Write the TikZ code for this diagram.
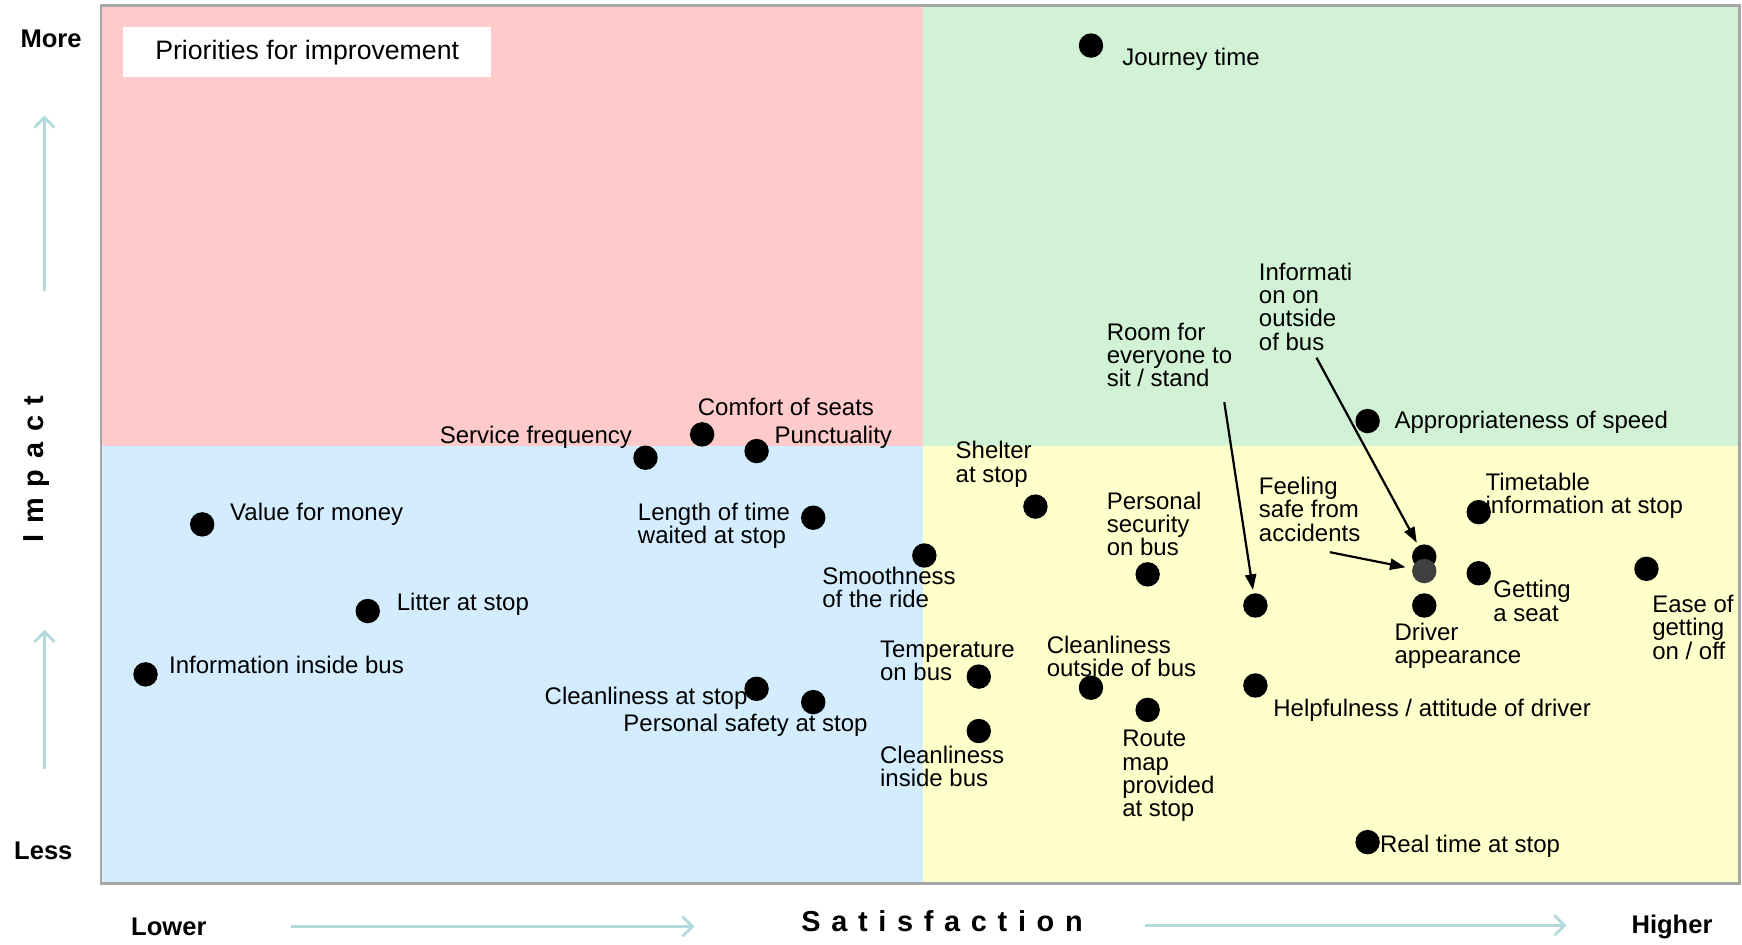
\documentclass[tikz,border=0pt]{standalone}
\usepackage{fontspec}
\setmainfont{Liberation Sans}
\usetikzlibrary{arrows.meta,positioning}

\definecolor{pinkq}{HTML}{FFCACA}
\definecolor{greenq}{HTML}{D2F2D6}
\definecolor{blueq}{HTML}{D3EDFF}
\definecolor{yellowq}{HTML}{FFFFCC}
\definecolor{hintteal}{HTML}{B2DADC}

\begin{document}
\begin{tikzpicture}[x=1pt,y=-1pt,
   dot/.style={circle,fill=black,minimum size=22pt,inner sep=0pt},
   lbl/.style={anchor=west,align=left,inner sep=0pt,yshift=-1.5pt,font=\fontsize{21.6}{21}\selectfont},
   axisword/.style={inner sep=0pt,font=\fontsize{23}{24}\selectfont\bfseries},
   spaced/.style={inner sep=0pt,font=\fontsize{26}{28}\selectfont\bfseries\addfontfeature{LetterSpace=37}},
   hint/.style={draw=hintteal,line width=2.5pt,-{Straight Barb[length=9pt,width=18pt]}},
   pointer/.style={line width=2pt,shorten >=3pt,-{Triangle[length=14pt,width=10pt]}}]
   \useasboundingbox (0,0) rectangle (1568,850);
   \fill[white] (0,0) rectangle (1568,850);
   % quadrants
   \fill[pinkq] (91,5) rectangle (831,401);
   \fill[greenq] (831,5) rectangle (1566,401);
   \fill[blueq] (91,401) rectangle (831,795);
   \fill[yellowq] (831,401) rectangle (1566,795);
   \draw[black!35,line width=2.5pt] (91,5) rectangle (1566,795);
   \node[fill=white,minimum width=331pt,minimum height=45pt,inner sep=0pt,
         font=\fontsize{24}{24}\selectfont] (prio) at (276.5,47) {Priorities for improvement};
   % axes
   \node[axisword] (more) at (46,35) {More};
   \node[axisword] (less) at (39,766) {Less};
   \node[axisword] (lower) at (152,834) {Lower};
   \node[axisword] (higher) at (1505,834) {Higher};
   \node[spaced] (satis) at (848,829) {Satisfaction};
   \node[spaced,rotate=90] (impact) at (33,422) {Impact};
   \draw[hint] (40,262) -- (40,104);
   \draw[hint] (40,692) -- (40,567);
   \draw[hint] (262,834) -- (625,834);
   \draw[hint] (1031,833) -- (1410,833);
   % labels
   \node[lbl] (journeyl) at (1010,52) {Journey time};
   \node[lbl] (speedl) at (1255,379) {Appropriateness of speed};
   \node[lbl] (comfortl) at (628,365) {Comfort of seats};
   \node[lbl,anchor=east] (freql) at (569,392) {Service frequency};
   \node[lbl] (punctl) at (697,392) {Punctuality};
   \node[lbl] (waitl) at (574,471.5) {Length of time\\waited at stop};
   \node[lbl] (smoothl) at (740,527.5) {Smoothness\\of the ride};
   \node[lbl] (valuel) at (207,461) {Value for money};
   \node[lbl] (litterl) at (357,542) {Litter at stop};
   \node[lbl] (infoinl) at (152,597) {Information inside bus};
   \node[lbl,anchor=east] (cleanstopl) at (673,627) {Cleanliness at stop};
   \node[lbl] (safetyl) at (561,651) {Personal safety at stop};
   \node[lbl] (templ) at (792,593.5) {Temperature\\on bus};
   \node[lbl] (cleaninl) at (792,688.5) {Cleanliness\\inside bus};
   \node[lbl] (shelterl) at (860,416.5) {Shelter\\at stop};
   \node[lbl] (securityl) at (996,470) {Personal\\security\\on bus};
   \node[lbl] (cleanoutl) at (942,589.5) {Cleanliness\\outside of bus};
   \node[lbl] (routel) at (1010,697) {Route\\map\\provided\\at stop};
   \node[lbl] (rooml) at (996,318) {Room for\\everyone to\\sit / stand};
   \node[lbl] (infooutl) at (1133,274.5) {Informati\\on on\\outside\\of bus};
   \node[lbl] (feelingl) at (1133,457) {Feeling\\safe from\\accidents};
   \node[lbl] (helpl) at (1146,638) {Helpfulness / attitude of driver};
   \node[lbl] (driverl) at (1255,579.5) {Driver\\appearance};
   \node[lbl] (timetablel) at (1337,444.5) {Timetable\\information at stop};
   \node[lbl] (seatl) at (1344,539.5) {Getting\\a seat};
   \node[lbl] (easel) at (1487,563) {Ease of\\getting\\on / off};
   \node[lbl] (reall) at (1242,760) {Real time at stop};
   % dots
   \node[dot] (journey) at (982,41) {};
   \node[dot] (speed) at (1231,379) {};
   \node[dot] (comfort) at (632,391) {};
   \node[dot] (freq) at (581,412) {};
   \node[dot] (punct) at (681,406) {};
   \node[dot] (wait) at (732,466) {};
   \node[dot] (smooth) at (832,500) {};
   \node[dot] (value) at (182,472) {};
   \node[dot] (litter) at (331,550) {};
   \node[dot] (infoin) at (131,607) {};
   \node[dot] (cleanstop) at (681,620) {};
   \node[dot] (safety) at (732,632) {};
   \node[dot] (temp) at (881,609) {};
   \node[dot] (cleanin) at (881,658) {};
   \node[dot] (shelter) at (932,456) {};
   \node[dot] (security) at (1033,517) {};
   \node[dot] (cleanout) at (982,619) {};
   \node[dot] (route) at (1033,639) {};
   \node[dot] (room) at (1130,545) {};
   \node[dot] (help) at (1130,617) {};
   \node[dot] (infoout) at (1282,501) {};
   \node[dot,fill=black!75] (feeling) at (1282,514) {};
   \node[dot] (driver) at (1282,545) {};
   \node[dot] (timetable) at (1331,461) {};
   \node[dot] (seat) at (1331,516) {};
   \node[dot] (ease) at (1482,512) {};
   \node[dot] (real) at (1231,758) {};
   % pointers
   \coordinate (roomtail) at (1102,362);
   \coordinate (infotail) at (1185,322);
   \coordinate (feeltail) at (1197,497);
   \draw[pointer] (roomtail) -- (room);
   \draw[pointer] (infotail) -- (infoout);
   \draw[pointer,shorten >=6pt] (feeltail) -- (feeling);
\end{tikzpicture}
\end{document}
